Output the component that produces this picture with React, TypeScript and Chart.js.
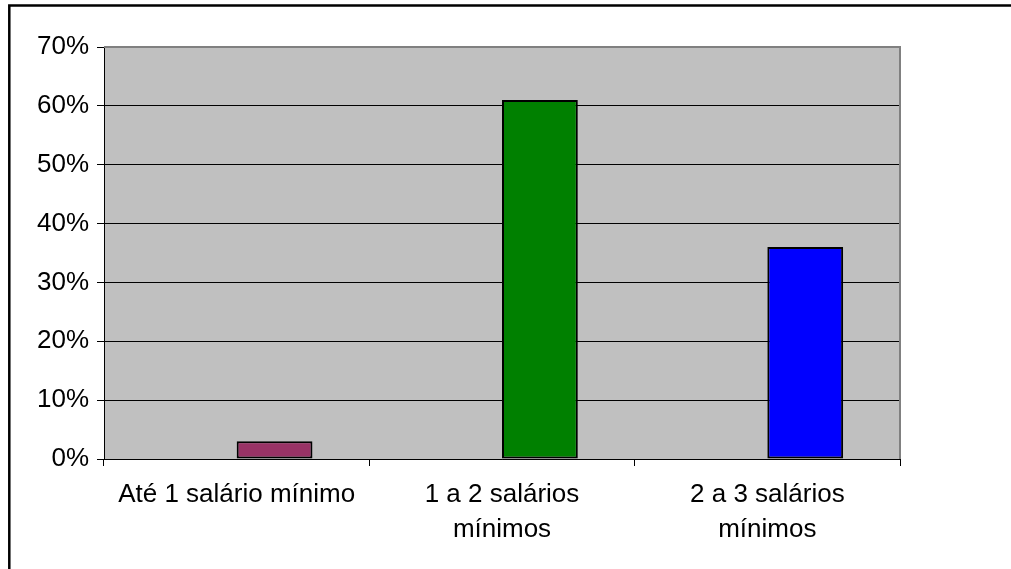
import React, { useEffect, useRef } from "react";
import { Chart, registerables } from "chart.js";

Chart.register(...registerables);

const categories: (string | string[])[] = [
  "Até 1 salário mínimo",
  ["1 a 2 salários", "mínimos"],
  ["2 a 3 salários", "mínimos"],
];
const emptySeries: (number | null)[] = [null, null, null];
const values: number[] = [3, 61, 36];
const barColors: string[] = ["#993366", "#008000", "#0000FF"];
const yMax = 70;
const yStep = 10;

const FONT = '"Liberation Sans", Arial, sans-serif';

const decorPlugin = {
  id: "decor",
  beforeDraw(chart: any) {
    const { ctx, chartArea } = chart;
    ctx.save();
    ctx.fillStyle = "#C0C0C0";
    ctx.fillRect(chartArea.left, chartArea.top, chartArea.right - chartArea.left, chartArea.bottom - chartArea.top);
    ctx.restore();
  },
  afterDraw(chart: any) {
    const { ctx, chartArea, width, height } = chart;
    ctx.save();
    ctx.strokeStyle = "#808080";
    ctx.lineWidth = 2;
    ctx.beginPath();
    ctx.moveTo(chartArea.left, chartArea.top);
    ctx.lineTo(chartArea.right, chartArea.top);
    ctx.lineTo(chartArea.right, chartArea.bottom);
    ctx.stroke();
    ctx.strokeStyle = "#000000";
    ctx.lineWidth = 2.5;
    ctx.beginPath();
    ctx.moveTo(9.3, height);
    ctx.lineTo(9.3, 5.5);
    ctx.lineTo(width, 5.5);
    ctx.stroke();
    ctx.restore();
  },
};

export default function App() {
  const ref = useRef<HTMLCanvasElement | null>(null);
  useEffect(() => {
    if (!ref.current) return;
    const chart = new Chart(ref.current, {
      type: "bar",
      data: {
        labels: categories as any,
        datasets: [
          {
            data: emptySeries as any,
            backgroundColor: "rgba(0,0,0,0)",
            borderWidth: 0,
            categoryPercentage: 2 / 3.5,
            barPercentage: 1,
          },
          {
            data: values,
            backgroundColor: barColors,
            borderColor: "#000000",
            borderWidth: 2,
            borderSkipped: false,
            categoryPercentage: 2 / 3.5,
            barPercentage: 1,
          },
        ],
      },
      options: {
        animation: false,
        responsive: true,
        maintainAspectRatio: false,
        layout: { padding: { top: 47, right: 111, left: 0, bottom: 0 } },
        plugins: { legend: { display: false }, tooltip: { enabled: false } },
        scales: {
          x: {
            offset: true,
            afterFit(scale: any) {
              scale.height = 110;
            },
            grid: {
              drawOnChartArea: false,
              drawTicks: true,
              tickLength: 7,
              color: "#000000",
              offset: true,
            },
            border: { display: true, color: "#000000", width: 1 },
            ticks: {
              color: "#000000",
              padding: 11,
              maxRotation: 0,
              autoSkip: false,
              font: { family: FONT, size: 26, lineHeight: 1.35 },
            },
          },
          y: {
            min: 0,
            max: yMax,
            afterFit(scale: any) {
              scale.width = 104;
            },
            grid: {
              color: "#000000",
              lineWidth: 1,
              tickLength: 7,
            },
            border: { display: true, color: "#000000", width: 1 },
            ticks: {
              stepSize: yStep,
              color: "#000000",
              padding: 8,
              font: { family: FONT, size: 26 },
              callback: (v: any) => v + "%",
            },
          },
        },
      },
      plugins: [decorPlugin],
    });
    return () => chart.destroy();
  }, []);
  return (
    <div style={{ position: "fixed", left: 0, top: 0, width: 1011, height: 569, background: "#fff" }}>
      <canvas ref={ref} />
    </div>
  );
}
